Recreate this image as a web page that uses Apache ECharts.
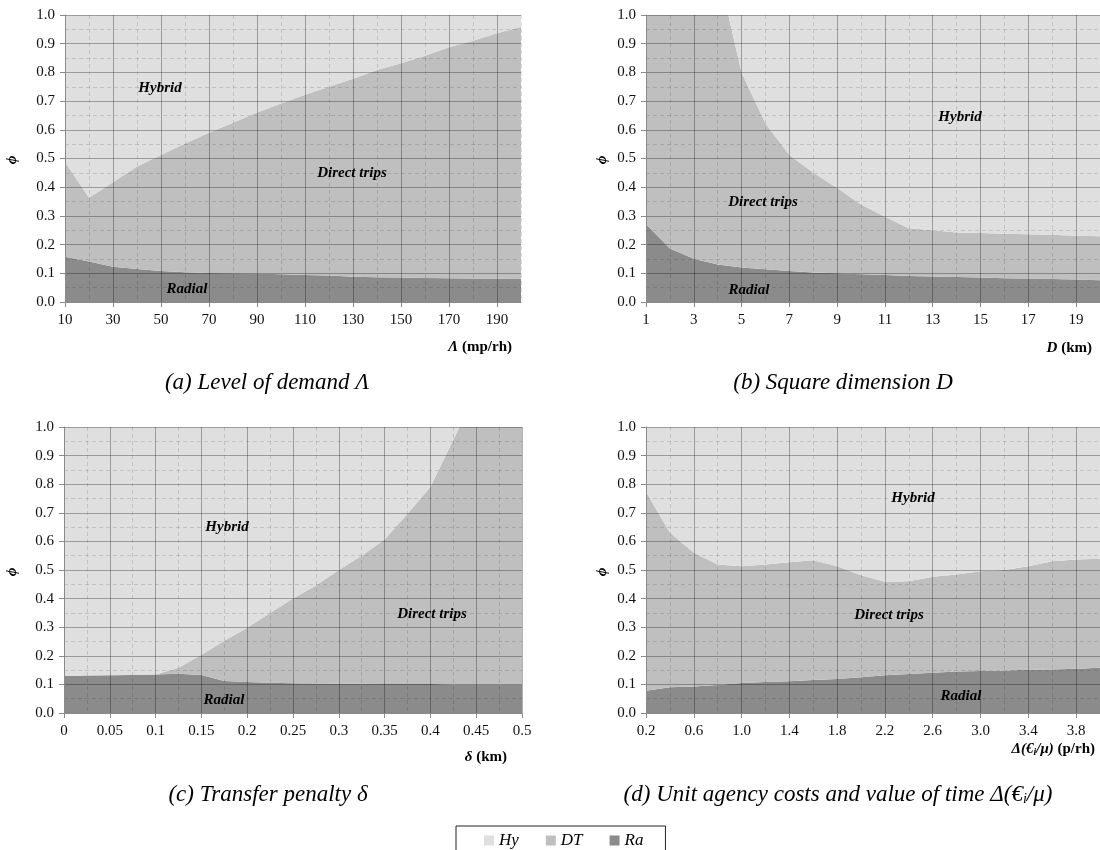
<!DOCTYPE html>
<html>
<head>
<meta charset="utf-8">
<title>Optimal structure regions</title>
<script src="https://cdn.jsdelivr.net/npm/echarts/dist/echarts.min.js"></script>
<style>
  html, body { margin: 0; padding: 0; background: #fff; }
  #chart { width: 1100px; height: 850px; }
</style>
</head>
<body>
<div id="chart"></div>
<script>
// ---- (a) Level of demand: shares of phi for Radial / Direct trips / Hybrid ----
const demandCats = ['10','20','30','40','50','60','70','80','90','100','110','120','130','140','150','160','170','180','190','200'];
const demandRa = [0.158, 0.141, 0.123, 0.115, 0.108, 0.104, 0.101, 0.100, 0.099, 0.097, 0.094, 0.092, 0.088, 0.086, 0.085, 0.084, 0.083, 0.082, 0.081, 0.080];
const demandDT = [0.330, 0.222, 0.294, 0.357, 0.404, 0.448, 0.489, 0.525, 0.561, 0.595, 0.628, 0.658, 0.690, 0.722, 0.747, 0.774, 0.805, 0.828, 0.855, 0.879];
const demandHy = [0.512, 0.637, 0.583, 0.528, 0.488, 0.448, 0.410, 0.375, 0.340, 0.308, 0.278, 0.250, 0.222, 0.192, 0.168, 0.142, 0.112, 0.090, 0.064, 0.041];

// ---- (b) Square dimension D (km) ----
const sizeCats = ['1','2','3','4','5','6','7','8','9','10','11','12','13','14','15','16','17','18','19','20'];
const sizeRa = [0.271, 0.186, 0.151, 0.131, 0.120, 0.114, 0.108, 0.103, 0.100, 0.097, 0.094, 0.091, 0.089, 0.087, 0.085, 0.083, 0.082, 0.080, 0.078, 0.076];
const sizeDT = [1.929, 1.614, 1.299, 1.029, 0.680, 0.508, 0.404, 0.347, 0.297, 0.243, 0.203, 0.166, 0.161, 0.155, 0.155, 0.155, 0.154, 0.154, 0.153, 0.153];
const sizeHy = [0, 0, 0, 0, 0.200, 0.378, 0.488, 0.550, 0.603, 0.660, 0.703, 0.743, 0.750, 0.758, 0.760, 0.762, 0.764, 0.766, 0.769, 0.771];

// ---- (c) Transfer penalty delta (km) ----
const penaltyCats = ['0','0.025','0.05','0.075','0.1','0.125','0.15','0.175','0.2','0.225','0.25','0.275','0.3','0.325','0.35','0.375','0.4','0.425','0.45','0.475','0.5'];
const penaltyRa = [0.129, 0.131, 0.132, 0.133, 0.135, 0.137, 0.133, 0.112, 0.108, 0.106, 0.104, 0.103, 0.102, 0.102, 0.101, 0.101, 0.101, 0.100, 0.100, 0.100, 0.100];
const penaltyDT = [0, 0, 0, 0, 0, 0.021, 0.071, 0.141, 0.190, 0.244, 0.296, 0.343, 0.398, 0.448, 0.506, 0.596, 0.689, 0.855, 1.020, 1.200, 1.400];
const penaltyHy = [0.871, 0.869, 0.868, 0.867, 0.865, 0.842, 0.796, 0.747, 0.702, 0.650, 0.600, 0.554, 0.500, 0.450, 0.393, 0.303, 0.210, 0.045, 0, 0, 0];

// ---- (d) Unit agency costs and value of time ----
const costCats = ['0.2','0.4','0.6','0.8','1.0','1.2','1.4','1.6','1.8','2.0','2.2','2.4','2.6','2.8','3.0','3.2','3.4','3.6','3.8','4.0'];
const costRa = [0.078, 0.090, 0.093, 0.098, 0.105, 0.108, 0.111, 0.115, 0.119, 0.125, 0.132, 0.136, 0.141, 0.145, 0.147, 0.149, 0.151, 0.152, 0.155, 0.158];
const costDT = [0.696, 0.540, 0.467, 0.421, 0.408, 0.411, 0.416, 0.419, 0.394, 0.357, 0.327, 0.325, 0.335, 0.339, 0.349, 0.351, 0.362, 0.379, 0.382, 0.381];
const costHy = [0.226, 0.370, 0.440, 0.481, 0.487, 0.481, 0.473, 0.466, 0.487, 0.518, 0.541, 0.539, 0.524, 0.516, 0.504, 0.500, 0.487, 0.469, 0.463, 0.461];

const yTicks = { min: 0, max: 1, step: 0.1 };
const legendNames = ['Hy', 'DT', 'Ra'];

const SERIF = '"Liberation Serif", "Times New Roman", "DejaVu Serif", serif';
const COLOR = { Hy: '#dfdfdf', DT: '#bfbfbf', Ra: '#8b8b8b' };
const MAJOR = 'rgba(0,0,0,0.30)';
const MINOR = 'rgba(0,0,0,0.13)';

const panels = [
  { cats: demandCats,  Ra: demandRa,  DT: demandDT,  Hy: demandHy,  box: { left: 65,  top: 15,  width: 456, height: 287 } },
  { cats: sizeCats,    Ra: sizeRa,    DT: sizeDT,    Hy: sizeHy,    box: { left: 646, top: 15,  width: 459, height: 287 } },
  { cats: penaltyCats, Ra: penaltyRa, DT: penaltyDT, Hy: penaltyHy, box: { left: 64,  top: 427, width: 458, height: 286 } },
  { cats: costCats,    Ra: costRa,    DT: costDT,    Hy: costHy,    box: { left: 646, top: 427, width: 459, height: 286 } }
];

const grid = [], xAxis = [], yAxis = [], series = [];
panels.forEach((p, i) => {
  grid.push(Object.assign({ show: false }, p.box));
  // labelled categories: solid grid line, tick and label
  xAxis.push({
    type: 'category', gridIndex: i, data: p.cats, boundaryGap: false, z: 5,
    axisLine: { show: true, lineStyle: { color: '#8a8a8a', width: 1 } },
    axisTick: { show: true, interval: 1, length: 5, lineStyle: { color: '#8a8a8a' } },
    axisLabel: { interval: 1, margin: 11, fontFamily: SERIF, fontSize: 15, color: '#111' },
    splitLine: { show: true, interval: (idx) => idx % 2 === 0, lineStyle: { color: MAJOR, width: 1 } }
  });
  // in-between categories: dashed grid line only
  xAxis.push({
    type: 'category', gridIndex: i, data: p.cats, boundaryGap: false, z: 4,
    axisLine: { show: false }, axisTick: { show: false }, axisLabel: { show: false },
    splitLine: { show: true, interval: (idx) => idx % 2 === 1, lineStyle: { color: MINOR, width: 1, type: [4, 3] } }
  });
  yAxis.push({
    type: 'value', gridIndex: i, min: yTicks.min, max: yTicks.max, interval: yTicks.step, z: 5,
    axisLine: { show: true, lineStyle: { color: '#8a8a8a', width: 1 } },
    axisTick: { show: true, length: 5, lineStyle: { color: '#8a8a8a' } },
    axisLabel: { margin: 10, fontFamily: SERIF, fontSize: 15, color: '#111', formatter: (v) => v.toFixed(1) },
    splitLine: { show: true, lineStyle: { color: MAJOR, width: 1 } },
    minorTick: { show: false, splitNumber: 2 },
    minorSplitLine: { show: true, lineStyle: { color: MINOR, width: 1, type: [4, 3] } }
  });
  ['Ra', 'DT', 'Hy'].forEach((k) => {
    series.push({
      name: k, type: 'line', stack: 'phi' + i, xAxisIndex: 2 * i, yAxisIndex: i,
      data: p[k], symbol: 'none', silent: true, z: 2,
      lineStyle: { width: 0 }, itemStyle: { color: COLOR[k] },
      areaStyle: { color: COLOR[k], opacity: 1 }
    });
  });
});

// ---- text annotations ----
const bi = { fontFamily: SERIF, fontWeight: 'bold', fontStyle: 'italic', fontSize: 15, fill: '#000' };
const b  = { fontFamily: SERIF, fontWeight: 'bold', fontSize: 15, fill: '#000' };
const it = { fontFamily: SERIF, fontStyle: 'italic', fontSize: 23, fill: '#000' };

function label(text, x, y, opts) {
  return { type: 'text', x: x, y: y, z: 10, silent: true, rotation: (opts && opts.rotation) || 0,
    style: Object.assign({ text: text, align: 'center', verticalAlign: 'middle' }, bi) };
}

const regionLabels = [
  ['Hybrid', 160, 88], ['Direct trips', 352, 173], ['Radial', 187, 289],
  ['Hybrid', 960, 117], ['Direct trips', 763, 202], ['Radial', 749, 290],
  ['Hybrid', 227, 527], ['Direct trips', 432, 614], ['Radial', 224, 700],
  ['Hybrid', 913, 498], ['Direct trips', 889, 615], ['Radial', 961, 696]
];

const graphic = regionLabels.map((r) => label(r[0], r[1], r[2]));

// y-axis titles
[[12, 160], [602, 160], [12, 572], [602, 572]].forEach((pt) => {
  graphic.push(label('ϕ', pt[0], pt[1], { rotation: Math.PI / 2 }));
});

// x-axis titles
const nameRich = { g: bi, t: b, s: Object.assign({}, bi, { fontSize: 10, verticalAlign: 'bottom', padding: [6, 0, 0, 0] }) };
function axisName(text, x, y) {
  return { type: 'text', x: x, y: y, z: 10, silent: true,
    style: { text: text, rich: nameRich, align: 'right', verticalAlign: 'middle', fontFamily: SERIF, fontSize: 15, fill: '#000' } };
}
graphic.push(axisName('{g|Λ}{t| (mp/rh)}', 512, 347));
graphic.push(axisName('{g|D}{t| (km)}', 1092, 348));
graphic.push(axisName('{g|δ}{t| (km)}', 507, 757));
graphic.push(axisName('{g|Δ(€}{s|i}{g|/μ)}{t| (p/rh)}', 1095, 749));

// panel captions
const capRich = { c: it, s: Object.assign({}, it, { fontSize: 14, verticalAlign: 'bottom', padding: [9, 0, 0, 0] }) };
function caption(text, x, y) {
  return { type: 'text', x: x, y: y, z: 10, silent: true,
    style: { text: text, rich: capRich, align: 'center', verticalAlign: 'middle', fontFamily: SERIF, fontSize: 23, fill: '#000' } };
}
graphic.push(caption('{c|(a) Level of demand Λ}', 267, 383));
graphic.push(caption('{c|(b) Square dimension D}', 843, 383));
graphic.push(caption('{c|(c) Transfer penalty δ}', 268, 795));
graphic.push(caption('{c|(d) Unit agency costs and value of time Δ(€}{s|i}{c|/μ)}', 838, 795));

const chart = echarts.init(document.getElementById('chart'), null, { renderer: 'canvas' });
chart.setOption({
  animation: false,
  backgroundColor: '#fff',
  grid: grid, xAxis: xAxis, yAxis: yAxis, series: series,
  legend: {
    data: legendNames, left: 456, top: 826, orient: 'horizontal', selectedMode: false,
    icon: 'rect', itemWidth: 10, itemHeight: 10, itemGap: 27,
    padding: [6, 22, 14, 28], borderColor: '#222', borderWidth: 1, backgroundColor: '#fff',
    textStyle: { fontFamily: SERIF, fontStyle: 'italic', fontSize: 17, color: '#000' }
  },
  graphic: graphic
});
</script>
</body>
</html>
